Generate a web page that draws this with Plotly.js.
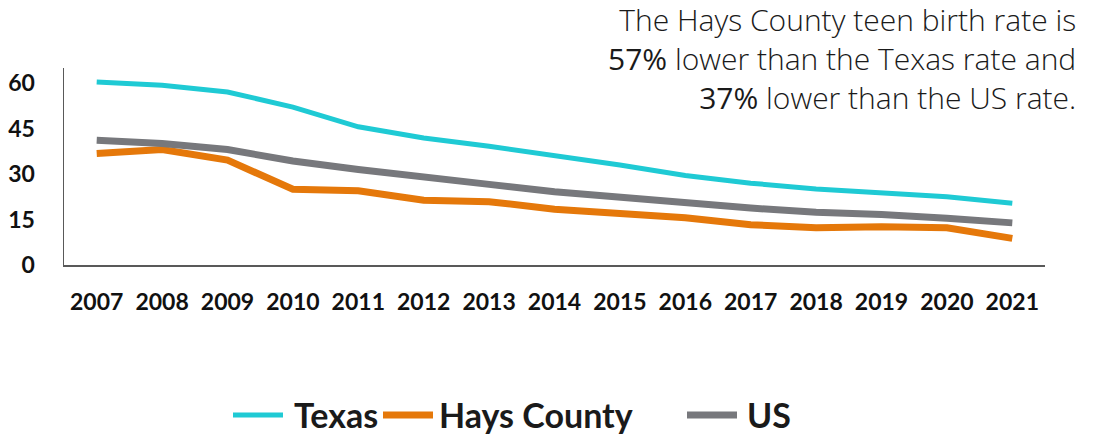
<!DOCTYPE html>
<html>
<head>
<meta charset="utf-8">
<script src="https://cdn.plot.ly/plotly-3.0.1.min.js"></script>
<style>html,body{margin:0;padding:0;background:#fff;}#chart{width:1096px;height:435px;}</style>
</head>
<body>
<div id="chart"></div>
<script>
const years = ['2007','2008','2009','2010','2011','2012','2013','2014','2015','2016','2017','2018','2019','2020','2021'];
const texas = [60.4, 59.3, 57.1, 52.1, 45.6, 41.9, 39.2, 36.2, 33.0, 29.5, 27.0, 25.1, 23.8, 22.5, 20.4];
const hays  = [36.8, 38.1, 34.6, 25.0, 24.5, 21.4, 20.9, 18.4, 17.0, 15.6, 13.3, 12.3, 12.6, 12.3, 8.8];
const us    = [41.2, 40.1, 38.1, 34.3, 31.5, 29.3, 26.6, 24.2, 22.3, 20.4, 18.8, 17.4, 16.7, 15.4, 13.9];
const yTicks = [0, 15, 30, 45, 60];
const seriesNames = ['Texas', 'Hays County', 'US'];
const seriesColors = ['#1fcad4', '#e5780a', '#77787c'];
const seriesWidths = [5, 7, 7];
const noteLines = [
  'The Hays County teen birth rate is',
  '<span style="font-weight:400">57%</span> lower than the Texas rate and',
  '<span style="font-weight:400">37%</span> lower than the US rate.'
];

// layout geometry (pixels)
const W = 1096, H = 435, L = 64, R = 51, T = 68, B = 170;
const pw = W - L - R, ph = H - T - B;
const px2x = p => (p - L) / pw;
const py2y = p => (H - B - p) / ph;

const seriesData = [texas, hays, us];
const traces = seriesData.map((d, i) => ({
  x: years, y: d, name: seriesNames[i], type: 'scatter', mode: 'lines',
  line: {color: seriesColors[i], width: seriesWidths[i]}
}));

// custom legend placement
const legLineStart = [233, 383, 687];
const legLineLen = 50;
const legTextStart = [292, 437, 745];
const legY = 415;

const shapes = seriesNames.map((n, i) => ({
  type: 'line', xref: 'paper', yref: 'paper',
  x0: px2x(legLineStart[i]), x1: px2x(legLineStart[i] + legLineLen),
  y0: py2y(legY), y1: py2y(legY),
  line: {color: seriesColors[i], width: seriesWidths[i]}
}));

const annotations = seriesNames.map((n, i) => ({
  xref: 'paper', yref: 'paper', x: px2x(legTextStart[i]), y: py2y(legY),
  xanchor: 'left', yanchor: 'middle', showarrow: false, text: n,
  font: {family: 'Lato, sans-serif', size: 34, color: '#1a1a1a', weight: 700}
}));

annotations.push({
  xref: 'paper', yref: 'paper', x: px2x(1078), y: py2y(59),
  xanchor: 'right', yanchor: 'middle', align: 'right', showarrow: false, text: noteLines.join('<br>'),
  font: {family: '"Open Sans", sans-serif', size: 30, color: '#1a1a1a', weight: 300}
});

const layout = {
  width: W, height: H,
  margin: {l: L, r: R, t: T, b: B},
  paper_bgcolor: '#fff', plot_bgcolor: '#fff',
  showlegend: false,
  xaxis: {type: 'category', range: [-0.5, 14.5], showgrid: false, zeroline: false, showline: true,
          linecolor: '#595959', linewidth: 1.5, ticks: '', ticklabelstandoff: 16,
          tickfont: {family: 'Lato, sans-serif', size: 23, color: '#111', weight: 700}},
  yaxis: {range: [0, 65], tickvals: yTicks, ticktext: yTicks.map(String), showgrid: false, zeroline: false,
          showline: true, linecolor: '#595959', linewidth: 1.5, ticks: '', ticklabelstandoff: 23,
          tickfont: {family: 'Lato, sans-serif', size: 23, color: '#111', weight: 700}},
  shapes: shapes,
  annotations: annotations
};

Plotly.newPlot('chart', traces, layout, {displayModeBar: false, staticPlot: true});
</script>
</body>
</html>
